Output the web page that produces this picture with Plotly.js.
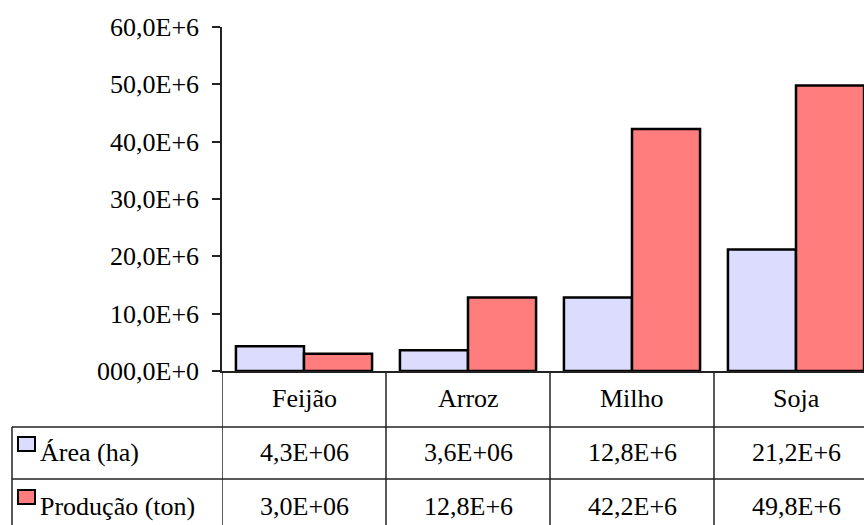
<!DOCTYPE html>
<html>
<head>
<meta charset="utf-8">
<script src="https://cdn.plot.ly/plotly-3.0.1.min.js"></script>
</head>
<body style="margin:0;background:#fff">
<div id="chart" style="width:864px;height:525px"></div>
<script>
// ---- data ----
const categories = ['Feijão', 'Arroz', 'Milho', 'Soja'];
const seriesNames = ['Área (ha)', 'Produção (ton)'];
const area = [4.3e6, 3.6e6, 12.8e6, 21.2e6];
const producao = [3.0e6, 12.8e6, 42.2e6, 49.8e6];
const tickVals = [0, 10e6, 20e6, 30e6, 40e6, 50e6, 60e6];
const tickLabels = ['000,0E+0', '10,0E+6', '20,0E+6', '30,0E+6', '40,0E+6', '50,0E+6', '60,0E+6'];

// ---- layout helpers (pixel geometry) ----
const W = 864, H = 525;
const L = 222, T = 27, B = 371;
const plotW = W - L, plotH = B - T;
const toPaperX = x => (x - L) / plotW;
const toPaperY = y => (B - y) / plotH;
const colors = ['#dcdcff', '#ff7d7d'];

function fmt(v) {
  const m = (v / 1e6).toFixed(1).replace('.', ',');
  return m + (v < 1e7 ? 'E+06' : 'E+6');
}

const traces = [
  {type: 'bar', x: categories.map((c, i) => i), y: area, name: seriesNames[0],
   marker: {color: colors[0], line: {color: '#000', width: 2.5}}},
  {type: 'bar', x: categories.map((c, i) => i), y: producao, name: seriesNames[1],
   marker: {color: colors[1], line: {color: '#000', width: 2.5}}}
];

const lineStyle = {color: '#222', width: 1.5};
const shapes = [];
for (let i = 0; i <= categories.length; i++) {
  shapes.push({type: 'line', xref: 'x', yref: 'paper', x0: i - 0.5, x1: i - 0.5,
               y0: 0, y1: toPaperY(530), line: lineStyle});
}
shapes.push({type: 'line', xref: 'paper', yref: 'paper', x0: toPaperX(12), x1: toPaperX(12),
             y0: toPaperY(427), y1: toPaperY(530), line: lineStyle});
[427, 479].forEach(yy => {
  shapes.push({type: 'line', xref: 'paper', yref: 'paper', x0: toPaperX(12), x1: 1.05,
               y0: toPaperY(yy), y1: toPaperY(yy), line: lineStyle});
});
const keyRows = [[437, 451], [490, 504]];
keyRows.forEach((r, i) => {
  shapes.push({type: 'rect', xref: 'paper', yref: 'paper', x0: toPaperX(18), x1: toPaperX(35),
               y0: toPaperY(r[1]), y1: toPaperY(r[0]), fillcolor: colors[i], line: {color: '#000', width: 2}});
});

const annotations = [];
const rowY = [398, 452, 506];
categories.forEach((c, i) => {
  annotations.push({xref: 'x', yref: 'paper', x: i, y: toPaperY(rowY[0]), text: c, showarrow: false,
                    xanchor: 'center', yanchor: 'middle'});
  annotations.push({xref: 'x', yref: 'paper', x: i, y: toPaperY(rowY[1]), text: fmt(area[i]), showarrow: false,
                    xanchor: 'center', yanchor: 'middle'});
  annotations.push({xref: 'x', yref: 'paper', x: i, y: toPaperY(rowY[2]), text: fmt(producao[i]), showarrow: false,
                    xanchor: 'center', yanchor: 'middle'});
});
seriesNames.forEach((n, i) => {
  annotations.push({xref: 'paper', yref: 'paper', x: toPaperX(38), y: toPaperY(rowY[i + 1]), text: n, showarrow: false,
                    xanchor: 'left', yanchor: 'middle'});
});

const layout = {
  width: W, height: H,
  margin: {l: L, r: 0, t: T, b: H - B, pad: 0},
  paper_bgcolor: '#fff', plot_bgcolor: '#fff',
  font: {family: 'Liberation Serif', size: 26},
  showlegend: false,
  barmode: 'group', bargap: 0.17, bargroupgap: 0,
  xaxis: {range: [-0.5, -0.5 + plotW / 164], showticklabels: false, ticks: '', showgrid: false,
          zeroline: false, showline: true, linecolor: '#222', linewidth: 1.5},
  yaxis: {range: [0, 60e6], tickvals: tickVals, ticktext: tickLabels, ticks: 'outside', ticklen: 8,
          tickcolor: '#222', tickwidth: 1.5, showgrid: false, zeroline: false, showline: true,
          linecolor: '#222', linewidth: 1.5, ticklabelstandoff: 8,
          tickfont: {family: 'Liberation Serif', size: 26, color: '#000'}},
  shapes: shapes,
  annotations: annotations
};

function forceSerif() {
  document.querySelectorAll('#chart text').forEach(t => {
    t.style.setProperty('font-family', "'Liberation Serif', 'Times New Roman', serif", 'important');
    t.style.setProperty('fill', '#000', 'important');
  });
}

Plotly.newPlot('chart', traces, layout, {displayModeBar: false}).then(forceSerif);
forceSerif();
</script>
</body>
</html>
